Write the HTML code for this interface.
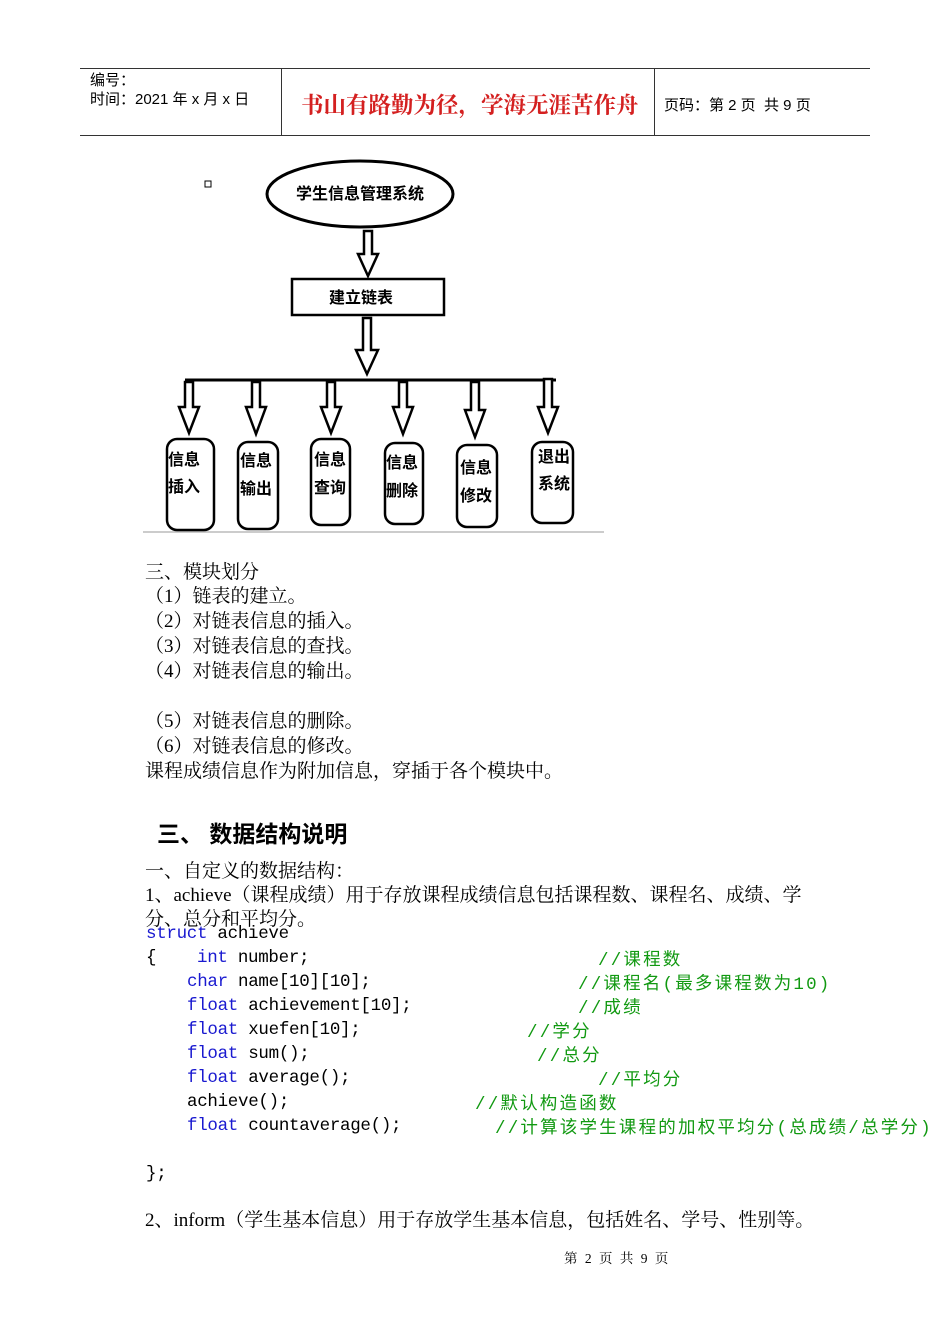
<!DOCTYPE html>
<html><head><meta charset="utf-8"><style>
body{margin:0;width:950px;height:1344px;background:#fff;position:relative;font-family:"Liberation Serif","Noto Serif CJK SC",serif;color:#000;overflow:hidden}
.a{position:absolute;white-space:nowrap}
.t{font-size:19px}
.c{font-family:"Liberation Mono","Noto Sans CJK SC",monospace;font-size:17.5px;letter-spacing:-0.3px}
.k{color:#1a1ad0}.g{color:#119911;letter-spacing:2.2px}
</style></head><body>
<div class="a" style="left:80px;top:68px;width:790px;border-top:1px solid #333"></div>
<div class="a" style="left:80px;top:135px;width:790px;border-top:1px solid #333"></div>
<div class="a" style="left:281px;top:68px;height:67px;border-left:1px solid #333"></div>
<div class="a" style="left:654px;top:68px;height:67px;border-left:1px solid #333"></div>
<div class="a" style="left:90px;top:71px;font-family:'Liberation Sans','Noto Sans CJK SC',sans-serif;font-size:15px;line-height:19px">编号：<br>时间：2021 年 x 月 x 日</div>
<div class="a" style="left:301px;top:88px;color:#d42020;font-size:22.5px;font-weight:bold;font-family:'Liberation Serif','Noto Serif CJK SC',serif">书山有路勤为径，学海无涯苦作舟</div>
<div class="a" style="left:664px;top:94px;font-size:15px;font-family:'Liberation Sans','Noto Sans CJK SC',sans-serif">页码：第 2 页&nbsp; 共 9 页</div>

<svg class="a" style="left:0;top:0" width="950" height="560">
<g fill="none" stroke="#000" stroke-width="3">
<ellipse cx="360" cy="194" rx="93" ry="33"/>
<rect x="292" y="279" width="152" height="36" stroke-width="2.5"/>
<line x1="185" y1="380" x2="556" y2="380"/>
</g>
<rect x="205" y="181" width="6" height="6" fill="none" stroke="#000" stroke-width="1"/>
<g fill="#fff" stroke="#000" stroke-width="2.5" stroke-linejoin="miter">
<path d="M364 231 h8 v23 h6 l-10 22 l-10 -22 h6 z"/>
<path d="M363 318 h8 v32 h7 l-11 24 l-11 -24 h7 z"/>
<path d="M185 382 h8 v25 h6 l-10 26 l-10 -26 h6 z"/>
<path d="M252 382 h8 v25 h6 l-10 27 l-10 -27 h6 z"/>
<path d="M327 382 h8 v25 h6 l-10 26 l-10 -26 h6 z"/>
<path d="M399 382 h8 v25 h6 l-10 27 l-10 -27 h6 z"/>
<path d="M471 382 h8 v28 h6 l-10 27 l-10 -27 h6 z"/>
<path d="M544 379 h8 v28 h6 l-10 26 l-10 -26 h6 z"/>
<rect x="167" y="439" width="47" height="91" rx="10"/>
<rect x="238" y="442" width="40" height="87" rx="10"/>
<rect x="311" y="439" width="39" height="86" rx="10"/>
<rect x="385" y="443" width="38" height="81" rx="10"/>
<rect x="457" y="445" width="40" height="82" rx="10"/>
<rect x="532" y="442" width="41" height="81" rx="10"/>
</g>
<line x1="143" y1="532" x2="604" y2="532" stroke="#999" stroke-width="1"/>
<g font-family="'Noto Sans CJK SC',sans-serif" font-weight="bold" font-size="16">
<text x="296" y="199">学生信息管理系统</text>
<text x="329" y="303">建立链表</text>
<text x="168" y="465">信息</text><text x="168" y="492">插入</text>
<text x="240" y="466">信息</text><text x="240" y="494">输出</text>
<text x="314" y="465">信息</text><text x="314" y="493">查询</text>
<text x="386" y="468">信息</text><text x="386" y="496">删除</text>
<text x="460" y="473">信息</text><text x="460" y="501">修改</text>
<text x="538" y="462">退出</text><text x="538" y="489">系统</text>
</g>
</svg>

<div class="a t" style="left:145px;top:557px">三、模块划分</div>
<div class="a t" style="left:145px;top:581px">（1）链表的建立。</div>
<div class="a t" style="left:145px;top:606px">（2）对链表信息的插入。</div>
<div class="a t" style="left:145px;top:631px">（3）对链表信息的查找。</div>
<div class="a t" style="left:145px;top:656px">（4）对链表信息的输出。</div>
<div class="a t" style="left:145px;top:706px">（5）对链表信息的删除。</div>
<div class="a t" style="left:145px;top:731px">（6）对链表信息的修改。</div>
<div class="a t" style="left:145px;top:756px">课程成绩信息作为附加信息，穿插于各个模块中。</div>
<div class="a" style="left:157px;top:815px;font-size:23px;font-weight:bold;font-family:'Liberation Sans','Noto Sans CJK SC',sans-serif">三、 数据结构说明</div>
<div class="a t" style="left:145px;top:856px">一、自定义的数据结构：</div>
<div class="a t" style="left:145px;top:880px">1、achieve（课程成绩）用于存放课程成绩信息包括课程数、课程名、成绩、学</div>
<div class="a t" style="left:145px;top:904px">分、总分和平均分。</div>

<div class="a c" style="left:146px;top:924px"><span class="k">struct</span> achieve</div>
<div class="a c" style="left:146px;top:948px">{&nbsp;&nbsp;&nbsp; <span class="k">int</span> number;</div>
<div class="a c" style="left:187px;top:972px"><span class="k">char</span> name[10][10];</div>
<div class="a c" style="left:187px;top:996px"><span class="k">float</span> achievement[10];</div>
<div class="a c" style="left:187px;top:1020px"><span class="k">float</span> xuefen[10];</div>
<div class="a c" style="left:187px;top:1044px"><span class="k">float</span> sum();</div>
<div class="a c" style="left:187px;top:1068px"><span class="k">float</span> average();</div>
<div class="a c" style="left:187px;top:1092px">achieve();</div>
<div class="a c" style="left:187px;top:1116px"><span class="k">float</span> countaverage();</div>
<div class="a c" style="left:146px;top:1164px">};</div>
<div class="a c g" style="left:598px;top:946px">//课程数</div>
<div class="a c g" style="left:578px;top:970px">//课程名(最多课程数为10)</div>
<div class="a c g" style="left:578px;top:994px">//成绩</div>
<div class="a c g" style="left:527px;top:1018px">//学分</div>
<div class="a c g" style="left:537px;top:1042px">//总分</div>
<div class="a c g" style="left:598px;top:1066px">//平均分</div>
<div class="a c g" style="left:475px;top:1090px">//默认构造函数</div>
<div class="a c g" style="left:495px;top:1114px">//计算该学生课程的加权平均分(总成绩/总学分)</div>

<div class="a t" style="left:145px;top:1205px">2、inform（学生基本信息）用于存放学生基本信息，包括姓名、学号、性别等。</div>
<div class="a" style="left:564px;top:1247px;font-size:13.5px;letter-spacing:2px">第 2 页 共 9 页</div>
</body></html>
